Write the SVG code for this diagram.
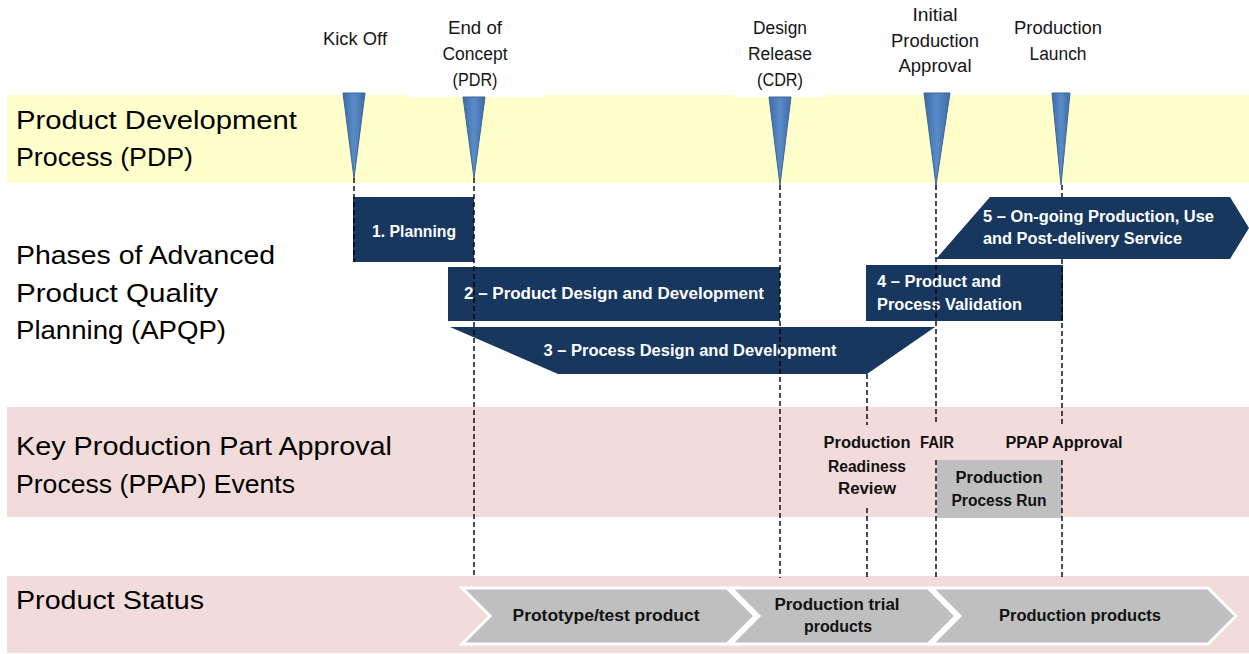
<svg xmlns="http://www.w3.org/2000/svg" width="1249" height="654" viewBox="0 0 1249 654">
<style>
text{font-family:"Liberation Sans",Arial,sans-serif}
.lbl{font-size:26px;fill:#000}
.ms{font-size:18px;fill:#151515;text-anchor:middle}
.bw{font-size:16px;font-weight:bold;fill:#fff}
.bk{font-size:16px;font-weight:bold;fill:#111}
.c{text-anchor:middle}
.tri{fill:#4F81BD;stroke:#3A6599;stroke-width:1}
.navy{fill:#17375E}
.grey{fill:#BFBFBF}
.chev{fill:#BFBFBF;stroke:#fff;stroke-width:3;stroke-linejoin:miter}
.dash{stroke:#000;stroke-width:1.4;stroke-dasharray:5 3;fill:none}
</style>
<defs>
<linearGradient id="tg" x1="0" x2="1" y1="0" y2="0">
<stop offset="0" stop-color="#3E6DA6"/>
<stop offset="0.5" stop-color="#5A8BC8"/>
<stop offset="1" stop-color="#3E6DA6"/>
</linearGradient>
</defs>
<rect width="1249" height="654" fill="#fff"/>
<!-- bands -->
<g id="bands">
<rect x="7" y="95" width="1242" height="88" fill="#FFFFCC"/>
<rect x="406" y="93" width="137" height="4" fill="#fff"/>
<rect x="733" y="93" width="94" height="4" fill="#fff"/>
<rect x="7" y="407" width="1242" height="110" fill="#F2DCDB"/>
<rect x="7" y="576" width="1242" height="77" fill="#F2DCDB"/>
</g>
<!-- row labels -->
<g id="row-labels">
<text class="lbl" x="16" y="129" textLength="281" lengthAdjust="spacingAndGlyphs">Product Development</text>
<text class="lbl" x="16" y="166" textLength="177" lengthAdjust="spacingAndGlyphs">Process (PDP)</text>
<text class="lbl" x="16" y="264" textLength="259" lengthAdjust="spacingAndGlyphs">Phases of Advanced</text>
<text class="lbl" x="16" y="302" textLength="202" lengthAdjust="spacingAndGlyphs">Product Quality</text>
<text class="lbl" x="16" y="339" textLength="210" lengthAdjust="spacingAndGlyphs">Planning (APQP)</text>
<text class="lbl" x="16" y="455" textLength="376" lengthAdjust="spacingAndGlyphs">Key Production Part Approval</text>
<text class="lbl" x="16" y="493" textLength="279" lengthAdjust="spacingAndGlyphs">Process (PPAP) Events</text>
<text class="lbl" x="16" y="609" textLength="188" lengthAdjust="spacingAndGlyphs">Product Status</text>
</g>
<!-- milestones -->
<g id="ms-kickoff">
<polygon class="tri" fill="url(#tg)" style="fill:url(#tg)" points="343,93 365,93 354,178"/>
<text class="ms" x="355" y="45" textLength="64" lengthAdjust="spacingAndGlyphs">Kick Off</text>
</g>
<g id="ms-pdr">
<polygon class="tri" style="fill:url(#tg)" points="463,97 485,97 474,178"/>
<text class="ms" x="475" y="34" textLength="54" lengthAdjust="spacingAndGlyphs">End of</text>
<text class="ms" x="475" y="60" textLength="65" lengthAdjust="spacingAndGlyphs">Concept</text>
<text class="ms" x="475" y="86" textLength="45" lengthAdjust="spacingAndGlyphs">(PDR)</text>
</g>
<g id="ms-cdr">
<polygon class="tri" style="fill:url(#tg)" points="769,97 791,97 780,185"/>
<text class="ms" x="780" y="34" textLength="54" lengthAdjust="spacingAndGlyphs">Design</text>
<text class="ms" x="780" y="60" textLength="64" lengthAdjust="spacingAndGlyphs">Release</text>
<text class="ms" x="780" y="86" textLength="46" lengthAdjust="spacingAndGlyphs">(CDR)</text>
</g>
<g id="ms-ipa">
<polygon class="tri" style="fill:url(#tg)" points="924,93 950,93 936,185"/>
<text class="ms" x="935" y="21" textLength="45" lengthAdjust="spacingAndGlyphs">Initial</text>
<text class="ms" x="935" y="47" textLength="88" lengthAdjust="spacingAndGlyphs">Production</text>
<text class="ms" x="935" y="72" textLength="73" lengthAdjust="spacingAndGlyphs">Approval</text>
</g>
<g id="ms-launch">
<polygon class="tri" style="fill:url(#tg)" points="1052,93 1070,93 1061,185"/>
<text class="ms" x="1058" y="34" textLength="88" lengthAdjust="spacingAndGlyphs">Production</text>
<text class="ms" x="1058" y="60" textLength="57" lengthAdjust="spacingAndGlyphs">Launch</text>
</g>
<!-- APQP phases -->
<g id="phase1">
<rect class="navy" x="353" y="197" width="121" height="65"/>
<text class="bw c" x="414" y="237" textLength="84" lengthAdjust="spacingAndGlyphs">1. Planning</text>
</g>
<g id="phase2">
<rect class="navy" x="448" y="267" width="332" height="54"/>
<text class="bw c" x="614" y="299" textLength="300" lengthAdjust="spacingAndGlyphs">2 – Product Design and Development</text>
</g>
<g id="phase3">
<path class="navy" d="M450,327 L935,327 L867,374 L558,374 Z"/>
<text class="bw c" x="690" y="356" textLength="293" lengthAdjust="spacingAndGlyphs">3 – Process Design and Development</text>
</g>
<g id="phase4">
<rect class="navy" x="866" y="265" width="197" height="56"/>
<text class="bw" x="877" y="287" textLength="124" lengthAdjust="spacingAndGlyphs">4 – Product and</text>
<text class="bw" x="877" y="310" textLength="145" lengthAdjust="spacingAndGlyphs">Process Validation</text>
</g>
<g id="phase5">
<path class="navy" d="M990,197 L1230,197 L1249,228 L1230,259 L936,259 Z"/>
<text class="bw" x="983" y="222" textLength="231" lengthAdjust="spacingAndGlyphs">5 – On-going Production, Use</text>
<text class="bw" x="983" y="244" textLength="199" lengthAdjust="spacingAndGlyphs">and Post-delivery Service</text>
</g>
<!-- PPAP events -->
<g id="ev-prr">
<text class="bk c" x="867" y="448" textLength="87" lengthAdjust="spacingAndGlyphs">Production</text>
<text class="bk c" x="867" y="472" textLength="78" lengthAdjust="spacingAndGlyphs">Readiness</text>
<text class="bk c" x="867" y="494" textLength="58" lengthAdjust="spacingAndGlyphs">Review</text>
</g>
<g id="ev-fair">
<text class="bk c" x="937" y="448" textLength="34" lengthAdjust="spacingAndGlyphs">FAIR</text>
</g>
<g id="ev-ppap">
<text class="bk c" x="1064" y="448" textLength="117" lengthAdjust="spacingAndGlyphs">PPAP Approval</text>
</g>
<g id="ev-run">
<rect class="grey" x="937" y="460" width="125" height="58"/>
<text class="bk c" x="999" y="483" textLength="87" lengthAdjust="spacingAndGlyphs">Production</text>
<text class="bk c" x="999" y="506" textLength="95" lengthAdjust="spacingAndGlyphs">Process Run</text>
</g>
<!-- product status -->
<g id="st-proto">
<path class="chev" d="M462,588 L727,588 L755,616 L727,644 L462,644 L490,616 Z"/>
<text class="bk c" x="606" y="621" textLength="187" lengthAdjust="spacingAndGlyphs">Prototype/test product</text>
</g>
<g id="st-trial">
<path class="chev" d="M731,588 L928,588 L956,616 L928,644 L731,644 L759,616 Z"/>
<text class="bk c" x="837" y="610" textLength="125" lengthAdjust="spacingAndGlyphs">Production trial</text>
<text class="bk c" x="838" y="632" textLength="68" lengthAdjust="spacingAndGlyphs">products</text>
</g>
<g id="st-prod">
<path class="chev" d="M932,588 L1208,588 L1236,616 L1208,644 L932,644 L960,616 Z"/>
<text class="bk c" x="1080" y="621" textLength="162" lengthAdjust="spacingAndGlyphs">Production products</text>
</g>
<!-- connectors -->
<g id="connectors">
<line class="dash" x1="354" y1="178" x2="354" y2="262"/>
<line class="dash" x1="474" y1="178" x2="474" y2="578"/>
<line class="dash" x1="780" y1="185" x2="780" y2="578"/>
<line class="dash" x1="936" y1="185" x2="936" y2="425"/>
<line class="dash" x1="936" y1="460" x2="936" y2="578"/>
<line class="dash" x1="1062" y1="185" x2="1062" y2="197"/>
<line class="dash" x1="1062" y1="259" x2="1062" y2="425"/>
<line class="dash" x1="1062" y1="460" x2="1062" y2="578"/>
<line class="dash" x1="867" y1="374" x2="867" y2="425"/>
<line class="dash" x1="867" y1="508" x2="867" y2="578"/>
</g>
</svg>
